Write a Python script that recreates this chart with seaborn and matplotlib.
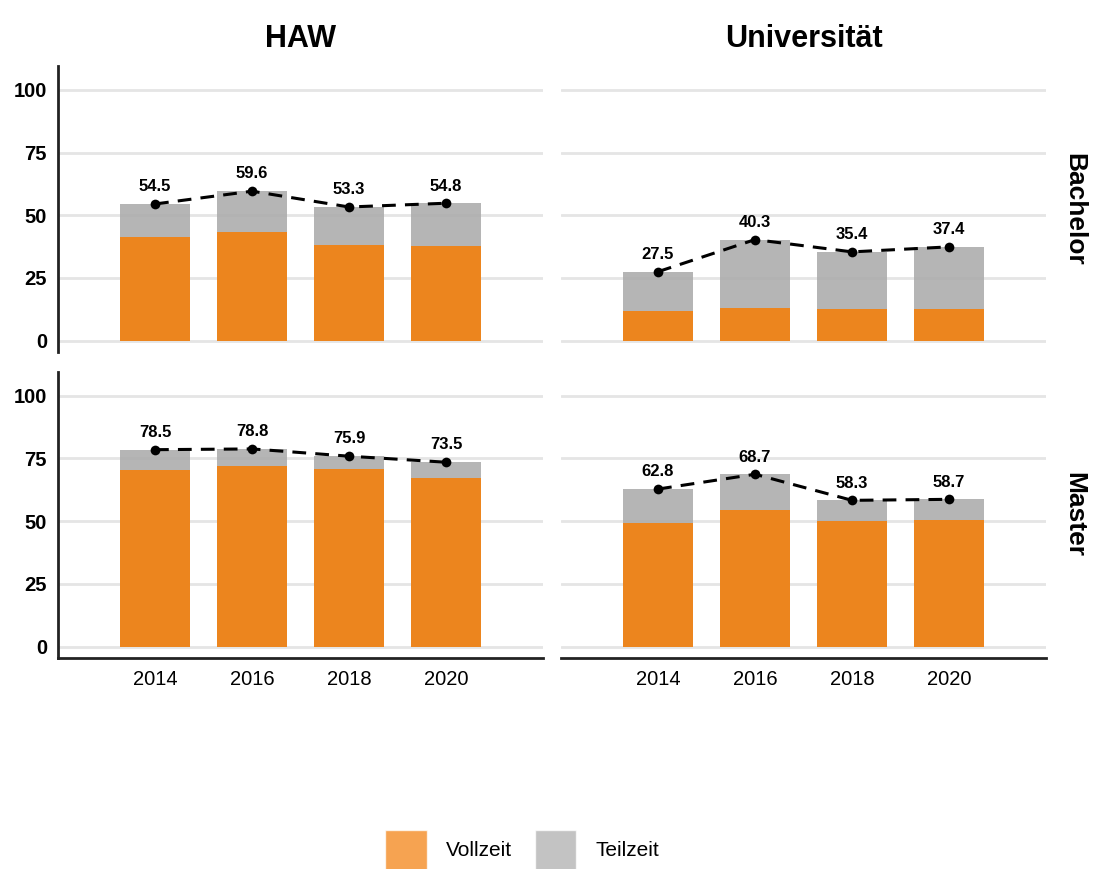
import numpy as np
import pandas as pd
import seaborn as sns
import matplotlib.pyplot as plt
from matplotlib.patches import Patch

# data
years = [2014, 2016, 2018, 2020]
hochschulen = ["HAW", "Universität"]
abschluesse = ["Bachelor", "Master"]

haw_bachelor_total = [54.5, 59.6, 53.3, 54.8]
haw_bachelor_voll = [41.2, 43.2, 38.1, 37.6]
uni_bachelor_total = [27.5, 40.3, 35.4, 37.4]
uni_bachelor_voll = [11.7, 13.1, 12.7, 12.5]
haw_master_total = [78.5, 78.8, 75.9, 73.5]
haw_master_voll = [70.4, 72.0, 70.9, 67.2]
uni_master_total = [62.8, 68.7, 58.3, 58.7]
uni_master_voll = [49.3, 54.4, 50.1, 50.4]

panels = {
    ("HAW", "Bachelor"): (haw_bachelor_total, haw_bachelor_voll),
    ("Universität", "Bachelor"): (uni_bachelor_total, uni_bachelor_voll),
    ("HAW", "Master"): (haw_master_total, haw_master_voll),
    ("Universität", "Master"): (uni_master_total, uni_master_voll),
}

ORANGE = "#F3800E"
GREY = "#ADADAD"

sns.set_theme(style="white")
plt.rcParams['font.family'] = ['Liberation Sans', 'DejaVu Sans']
plt.rcParams['text.color'] = 'black'
plt.rcParams['xtick.color'] = 'black'
plt.rcParams['ytick.color'] = 'black'

fig = plt.figure(figsize=(10.99, 8.69), dpi=100)

col_left = [0.0528, 0.5105]
row_bottom = [0.595, 0.243]
w, h = 0.4413, 0.329

for r, abschluss in enumerate(abschluesse):
    for c, hs in enumerate(hochschulen):
        ax = fig.add_axes([col_left[c], row_bottom[r], w, h])
        total, voll = panels[(hs, abschluss)]
        df = pd.DataFrame({"year": years, "total": total, "voll": voll})

        for yv in [0, 25, 50, 75, 100]:
            ax.axhline(yv, color="#E5E5E5", lw=2, zorder=0)
        for yv in [12.5, 37.5, 62.5, 87.5]:
            ax.axhline(yv, color="white", lw=1.2, zorder=0)

        # stacked: total (grey) underneath, Vollzeit (orange) on top
        sns.barplot(data=df, x="year", y="total", native_scale=True, width=0.72,
                    color=GREY, saturation=1, linewidth=0, ax=ax)
        sns.barplot(data=df, x="year", y="voll", native_scale=True, width=0.72,
                    color=ORANGE, saturation=1, linewidth=0, ax=ax)
        for p in ax.patches:
            p.set_alpha(0.9)
            p.set_edgecolor("none")
            p.set_zorder(1)
        sns.lineplot(data=df, x="year", y="total", color="black", lw=2.2,
                     linestyle=(0, (4.5, 3)), marker="o", markersize=7,
                     markeredgewidth=0, ax=ax, zorder=3)
        for x, t in zip(years, total):
            ax.annotate(f"{t:.1f}", (x, t), xytext=(0, 7), textcoords="offset points",
                        ha="center", va="bottom", fontsize=12, fontweight="bold")

        ax.set_xlim(2012, 2022)
        ax.set_ylim(-4.5, 109.5)
        ax.set_xlabel("")
        ax.set_ylabel("")
        ax.set_xticks(years)
        ax.set_yticks([0, 25, 50, 75, 100])
        ax.grid(False)
        for s in ax.spines.values():
            s.set_visible(False)
            s.set_color("#222222")
            s.set_linewidth(2)

        if c == 0:
            ax.spines["left"].set_visible(True)
            ax.tick_params(axis="y", length=5, width=1.5, color="#222222",
                           labelsize=14.5, pad=3)
            for lab in ax.get_yticklabels():
                lab.set_fontweight("bold")
        else:
            ax.tick_params(axis="y", left=False, labelleft=False)

        if r == 1:
            ax.spines["bottom"].set_visible(True)
            ax.tick_params(axis="x", length=5, width=1.5, color="#222222",
                           labelsize=14.5, pad=4)
        else:
            ax.tick_params(axis="x", bottom=False, labelbottom=False)

        if r == 0:
            ax.set_title(hs, fontsize=22, fontweight="bold", pad=14)
        if c == 1:
            ax.text(1.058, 0.5, abschluss, transform=ax.transAxes, rotation=-90,
                    ha="center", va="center", fontsize=19, fontweight="bold")

handles = [Patch(facecolor=ORANGE, alpha=0.72, label="Vollzeit"),
           Patch(facecolor=GREY, alpha=0.72, label="Teilzeit")]
fig.legend(handles=handles, loc="center", bbox_to_anchor=(0.475, 0.022), ncol=2,
           frameon=False, fontsize=15, handlelength=2.0, handleheight=2.6,
           handletextpad=0.9, columnspacing=1.1)

fig.savefig("out.png", dpi=100)
